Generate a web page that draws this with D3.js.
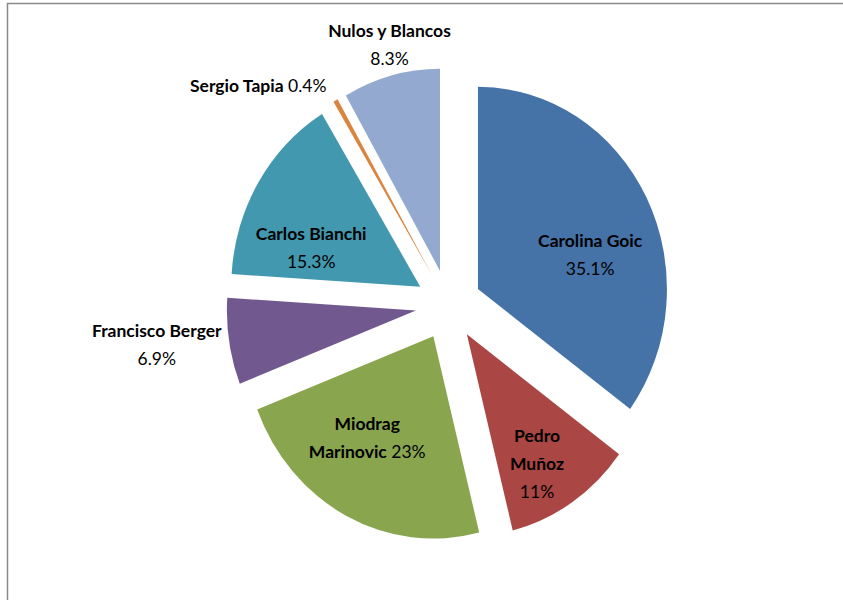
<!DOCTYPE html>
<html>
<head>
<meta charset="utf-8">
<script src="https://cdn.jsdelivr.net/npm/d3@7"></script>
<style>
  body { margin: 0; background: #fff; }
  svg { display: block; }
  text { font-family: Lato, "Liberation Sans", sans-serif; fill: #000; }
</style>
</head>
<body>
<svg class="chart" width="843" height="600"></svg>
<script>
// candidates and vote shares (%)
const names = ['Carolina Goic', 'Pedro\nMuñoz', 'Miodrag\nMarinovic', 'Francisco Berger', 'Carlos Bianchi', 'Sergio Tapia', 'Nulos y Blancos'];
const shares = [35.1, 11, 23, 6.9, 15.3, 0.4, 8.3];
const colors = ['#4572A7', '#AA4643', '#89A54E', '#71588F', '#4198AF', '#DB843D', '#93A9CF'];

// label layout: put percentage on its own line?, radius factor, nudge
const pctOnNewLine = [true, true, false, true, true, false, true];
const labelAt = [[0.6, 11, 13], [0.6, 7, 7], [0.6, -14, -14], [1.2, -35, -11],
                 [0.6, -12, 16], [1.2, -58, 26], [1.2, 8, 1]];

const svg = d3.select('.chart');
const cx = 448.5, cy = 305;
const radius = 189;
const stretch = 1.07;     // picture is a bit taller than wide
const explode = 33;
const lineH = 28;

svg.append('rect')
  .attr('x', 7.5).attr('y', 3.5)
  .attr('width', 900).attr('height', 700)
  .attr('fill', 'none')
  .attr('stroke', '#8a8a8a')
  .attr('stroke-width', 1.5);

const pie = d3.pie().value(d => d).sort(null);
const arcs = pie(shares);
const arc = d3.arc().innerRadius(0).outerRadius(radius);

const mid = d => (d.startAngle + d.endAngle) / 2;

const g = svg.append('g')
  .attr('transform', `translate(${cx},${cy}) scale(1,${stretch})`);

g.selectAll('path').data(arcs)
  .enter().append('path')
  .attr('d', arc)
  .attr('fill', (d, i) => colors[i])
  .attr('transform', d => `translate(${explode * Math.sin(mid(d))},${-explode * Math.cos(mid(d))})`);

// labels
arcs.forEach((d, i) => {
  const [k, dx, dy] = labelAt[i];
  const dist = explode + k * radius;
  const x = cx + dist * Math.sin(mid(d)) + dx;
  const y = cy - dist * Math.cos(mid(d)) * stretch + dy;

  const pct = shares[i] + '%';
  const lines = names[i].split('\n').map(t => [[t, true]]);
  if (pctOnNewLine[i]) lines.push([[pct, false]]);
  else lines[lines.length - 1].push([' ' + pct, false]);

  const t = svg.append('text')
    .attr('text-anchor', 'middle')
    .attr('font-size', 17.5);
  lines.forEach((segs, li) => {
    segs.forEach((s, si) => {
      const sp = t.append('tspan')
        .attr('font-weight', s[1] ? 'bold' : 'normal')
        .text(s[0]);
      if (si === 0) sp.attr('x', x).attr('y', y + li * lineH);
    });
  });
});
</script>
</body>
</html>
